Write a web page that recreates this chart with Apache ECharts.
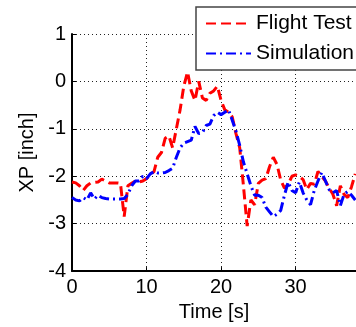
<!DOCTYPE html>
<html>
<head>
<meta charset="utf-8">
<script src="https://cdn.jsdelivr.net/npm/echarts@6/dist/echarts.min.js"></script>
<style>
    html, body { margin: 0; padding: 0; background: #fff; }
    #main { width: 356px; height: 327px; }
</style>
</head>
<body>
<div id="main"></div>
<script>
// time axis in seconds, sampled every 0.5 s
var timeSec = [];
for (var i = 0; i <= 76; i++) { timeSec.push(i * 0.5); }

// XP [inch]
var flightTest = [
    -2.12, -2.14, -2.20, -2.30, -2.20, -2.14, -2.13, -2.12, -2.06, -2.10,
    -2.14, -2.14, -2.14, -2.15, -2.85, -2.20, -2.15, -2.10, -2.12, -2.10,
    -2.05, -1.97, -1.90, -1.60, -1.50, -1.20, -1.15, -1.40, -1.00, -0.60,
    -0.10, 0.20, -0.20, -0.40, 0.00, -0.35, -0.40, -0.25, -0.20, -0.10,
    -0.40, -0.60, -0.65, -0.75, -1.10, -1.40, -2.20, -3.05, -2.50, -2.60,
    -2.15, -2.08, -2.05, -1.80, -1.60, -1.75, -2.08, -2.25, -2.17, -2.00,
    -1.97, -2.00, -2.07, -2.28, -2.15, -2.17, -1.90, -2.00, -2.10, -2.25,
    -2.38, -2.62, -2.20, -2.38, -2.45, -2.22, -1.95
];
var simulation = [
    -2.45, -2.50, -2.52, -2.45, -2.50, -2.35, -2.48, -2.40, -2.45, -2.47,
    -2.48, -2.48, -2.48, -2.48, -2.47, -2.38, -2.20, -2.10, -2.10, -2.00,
    -2.05, -1.95, -1.90, -1.93, -1.93, -1.92, -1.88, -1.83, -1.60, -1.40,
    -1.30, -1.27, -1.24, -0.95, -1.10, -1.08, -0.93, -0.90, -0.72, -0.65,
    -0.70, -0.65, -0.60, -0.82, -1.05, -1.35, -1.70, -1.95, -2.20, -2.40,
    -2.40, -2.45, -2.65, -2.75, -2.85, -2.80, -2.72, -2.40, -2.12, -2.30,
    -2.35, -2.12, -2.35, -2.50, -2.60, -2.30, -2.10, -1.92, -2.10, -2.28,
    -2.35, -2.30, -2.62, -2.38, -2.32, -2.40, -2.50
];

var yTicks = [-4, -3, -2, -1, 0, 1];
var xTicks = [0, 10, 20, 30];

function pairs(xs, ys) {
    var out = [];
    for (var k = 0; k < ys.length; k++) { out.push([xs[k], ys[k]]); }
    return out;
}

var font = 'Liberation Sans';
var myChart = echarts.init(document.getElementById('main'));

var gridLine = { show: true, lineStyle: { color: '#222', width: 1, type: [1, 3] } };

var option = {
    backgroundColor: '#fff',
    animation: false,
    textStyle: { fontFamily: font },
    grid: { left: 72, top: 34, right: 0, bottom: 52, containLabel: false },
    legend: {
        left: 196,
        top: 7,
        orient: 'vertical',
        backgroundColor: '#fff',
        borderColor: '#444',
        borderWidth: 1.5,
        borderRadius: 0,
        padding: [6, 20, 6, 9],
        itemGap: 9,
        itemWidth: 45,
        itemHeight: 20,
        itemStyle: { color: 'transparent', borderWidth: 0, opacity: 0 },
        textStyle: { fontFamily: font, fontSize: 21, color: '#000' },
        data: ['Flight Test', 'Simulation']
    },
    xAxis: {
        type: 'value',
        min: 0,
        max: 38.1,
        interval: 10,
        name: 'Time [s]',
        nameLocation: 'middle',
        nameGap: 19,
        nameTextStyle: { fontFamily: font, fontSize: 20, color: '#000' },
        axisLine: { show: true, onZero: false, lineStyle: { color: '#000', width: 2 } },
        axisTick: { show: true, inside: true, length: 4, lineStyle: { color: '#000' } },
        axisLabel: {
            fontFamily: font, fontSize: 20, color: '#000', margin: 6,
            showMaxLabel: false,
            formatter: function (v) { return xTicks.indexOf(v) >= 0 ? String(v) : ''; }
        },
        splitLine: gridLine
    },
    yAxis: {
        type: 'value',
        min: -4,
        max: 1,
        interval: 1,
        name: 'XP [inch]',
        nameLocation: 'middle',
        nameGap: 25,
        nameTextStyle: { fontFamily: font, fontSize: 20, color: '#000' },
        axisLine: { show: true, onZero: false, lineStyle: { color: '#000', width: 2 } },
        axisTick: { show: true, inside: true, length: 4, lineStyle: { color: '#000' } },
        axisLabel: {
            fontFamily: font, fontSize: 20, color: '#000', margin: 6,
            formatter: function (v) { return yTicks.indexOf(v) >= 0 ? String(v) : ''; }
        },
        splitLine: gridLine
    },
    series: [{
        name: 'Flight Test',
        type: 'line',
        showSymbol: false,
        symbol: 'none',
        color: '#ff0000',
        lineStyle: { color: '#ff0000', width: 3, type: [10, 5] },
        data: pairs(timeSec, flightTest)
    }, {
        name: 'Simulation',
        type: 'line',
        showSymbol: false,
        symbol: 'none',
        color: '#0000ff',
        lineStyle: { color: '#0000ff', width: 3, type: [10, 4, 2, 4] },
        data: pairs(timeSec, simulation)
    }]
};

myChart.setOption(option);
</script>
</body>
</html>
